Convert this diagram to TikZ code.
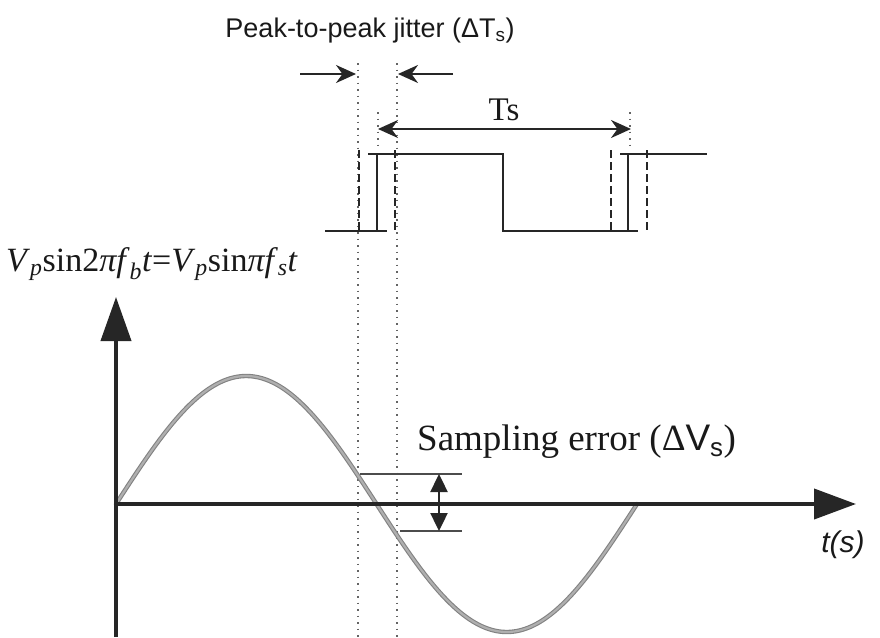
\documentclass[tikz,border=0pt]{standalone}
\usepackage{fontspec}
\setmainfont{Liberation Serif}
\setsansfont{Liberation Sans}
\usetikzlibrary{arrows.meta}
\definecolor{sineedge}{RGB}{130,130,130}
\definecolor{sinefill}{RGB}{175,175,175}
\definecolor{dotgray}{RGB}{100,100,100}
\tikzset{
  axisline/.style={line width=4pt, black!85},
  clockline/.style={line width=2.4pt, black!85},
  jitterdash/.style={line width=2.4pt, black!85, dash pattern=on 8pt off 4pt},
  guide/.style={line width=1.6pt, dotgray, dash pattern=on 1.5pt off 5pt},
  dimarrow/.style={line width=2.4pt, black!85, -{Stealth[length=20pt,width=18pt]}},
  lbl/.style={inner sep=0pt, text=black!90}
}
\begin{document}
\begin{tikzpicture}[x=1pt,y=-1pt]
\useasboundingbox (0,0) rectangle (880,637);
% coordinates
\coordinate (yb) at (116,637);
\coordinate (yt) at (116,297);
\coordinate (xl) at (116,504);
\coordinate (xr) at (856,504);
% guide dotted lines
\draw[guide] (358,63) -- (358,637);
\draw[guide] (397,63) -- (397,637);
\draw[guide] (378,112) -- (378,146);
\draw[guide] (630,112) -- (630,146);
% sine
\draw[line width=4.4pt, sineedge, line cap=round]
  plot[domain=0:521, samples=220, smooth] ({116+\x},{504-128*sin(\x/521*360)});
\draw[line width=2.2pt, sinefill, line cap=round]
  plot[domain=0:521, samples=220, smooth] ({116+\x},{504-128*sin(\x/521*360)});
% axes
\draw[axisline, -{Triangle[length=44pt,width=30pt]}] (yb) -- (yt);
\draw[axisline, -{Triangle[length=42pt,width=30pt]}] (xl) -- (xr);
% clock waveform
\draw[clockline] (325,231) -- (387,231);
\draw[clockline] (377,231) -- (377,154);
\draw[clockline] (368,154) -- (503,154) -- (503,231) -- (638,231);
\draw[clockline] (628,231) -- (628,154);
\draw[clockline] (620,154) -- (707,154);
\draw[jitterdash] (359,150) -- (359,233);
\draw[jitterdash] (395,150) -- (395,233);
\draw[jitterdash] (611,150) -- (611,233);
\draw[jitterdash] (647,150) -- (647,233);
% jitter arrows
\coordinate (ja1) at (300,74); \coordinate (jb1) at (356,74);
\coordinate (ja2) at (453,74); \coordinate (jb2) at (398,74);
\draw[dimarrow] (ja1) -- (jb1);
\draw[dimarrow] (ja2) -- (jb2);
% Ts arrow
\coordinate (tsa) at (378,129); \coordinate (tsb) at (631,129);
\draw[dimarrow, {Stealth[length=20pt,width=18pt]}-{Stealth[length=20pt,width=18pt]}] (tsa) -- (tsb);
% sampling error
\coordinate (su) at (439,474); \coordinate (sl) at (439,531);
\draw[line width=1.8pt, black!70] (360,474) -- (462,474);
\draw[line width=1.8pt, black!70] (400,531) -- (462,531);
\draw[line width=2.4pt, black!85, {Triangle[length=18pt,width=17pt]}-{Triangle[length=18pt,width=17pt]}] (su) -- (sl);
% labels
\node[lbl, font=\sffamily\fontsize{27}{30}\selectfont] (title) at (370,31)
  {Peak-to-peak jitter (ΔT\textsubscript{s})};
\node[lbl, font=\fontsize{33}{36}\selectfont] (ts) at (504,110) {Ts};
\node[lbl, anchor=west, font=\fontsize{34}{38}\selectfont] (ylab) at (6,264)
  {\textit{V}\textsubscript{\textit{p}}sin2\textit{πf}\textsubscript{\textit{b}}\textit{t}=\textit{V}\textsubscript{\textit{p}}sin\textit{πf}\textsubscript{\textit{s}}\textit{t}};
\node[lbl, anchor=west, font=\fontsize{37}{40}\selectfont] (serr) at (417,442)
  {Sampling error (Δ{\sffamily V\textsubscript{s}})};
\node[lbl, font=\sffamily\itshape\fontsize{30}{34}\selectfont] (tlab) at (843,545) {t(s)};
\end{tikzpicture}
\end{document}
